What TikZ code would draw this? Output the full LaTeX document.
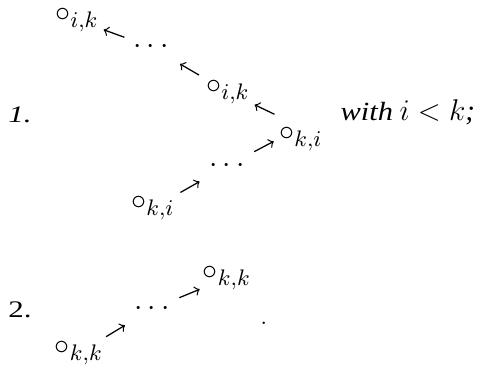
\documentclass[tikz,border=0pt,12pt]{standalone}
\usepackage{fontspec}
\setmainfont{Liberation Serif}
\usetikzlibrary{calc}
\tikzset{
  vert/.style={inner sep=0pt, anchor=center, font=\fontsize{13}{15}\selectfont},
  lab/.style={inner sep=0pt, anchor=base west, font=\fontsize{9.5}{11}\selectfont},
  arr/.style={->, line width=0.5pt},
}
% short arrow in the middle between two entries, tip at the second one
\newcommand{\shortarr}[2]{\draw[arr] ($(#1)!.5!(#2)!-4.4pt!(#2)$) -- ($(#1)!.5!(#2)!4.4pt!(#2)$);}
\newcommand{\wide}[1]{\scalebox{1.3}[1]{#1}}
\begin{document}
\begin{tikzpicture}[x=0.4pt,y=-0.4pt]
      \useasboundingbox (0,0) rectangle (484,367);
      % first case
      \node[lab] (lab1) at (8,122) {\wide{\textit{1.}}};
      \node[vert] (ikA) at (77,20) {$\circ_{i,k}$};
      \node[vert] (dotsA) at (151,47) {$\cdots$};
      \node[vert] (ikB) at (228,92) {$\circ_{i,k}$};
      \node[vert] (kiA) at (301,139) {$\circ_{k,i}$};
      \node[vert] (dotsB) at (227,166) {$\cdots$};
      \node[vert] (kiB) at (153,208) {$\circ_{k,i}$};
      \node[lab, font=\fontsize{10.5}{12}\selectfont] (cond) at (340,120)
        {\scalebox{1.16}[1]{\textit{with}} {\fontsize{11.5}{13}\selectfont$i<k$\textit{;}}};
      \shortarr{dotsA}{ikA}
      \shortarr{ikB}{dotsA}
      \shortarr{kiA.north}{ikB}
      \shortarr{dotsB}{kiA.north}
      \shortarr{kiB}{dotsB}
      % second case
      \node[lab] (lab2) at (8,317) {\wide{2.}};
      \node[vert] (kkA) at (79,353) {$\circ_{k,k}$};
      \node[vert] (dotsC) at (152,309) {$\cdots$};
      \node[vert] (kkB) at (227,278) {$\circ_{k,k}$};
      \node[lab] (stop) at (260,324) {$.$};
      \shortarr{kkA}{dotsC}
      \shortarr{dotsC}{kkB}
    \end{tikzpicture}
\end{document}
